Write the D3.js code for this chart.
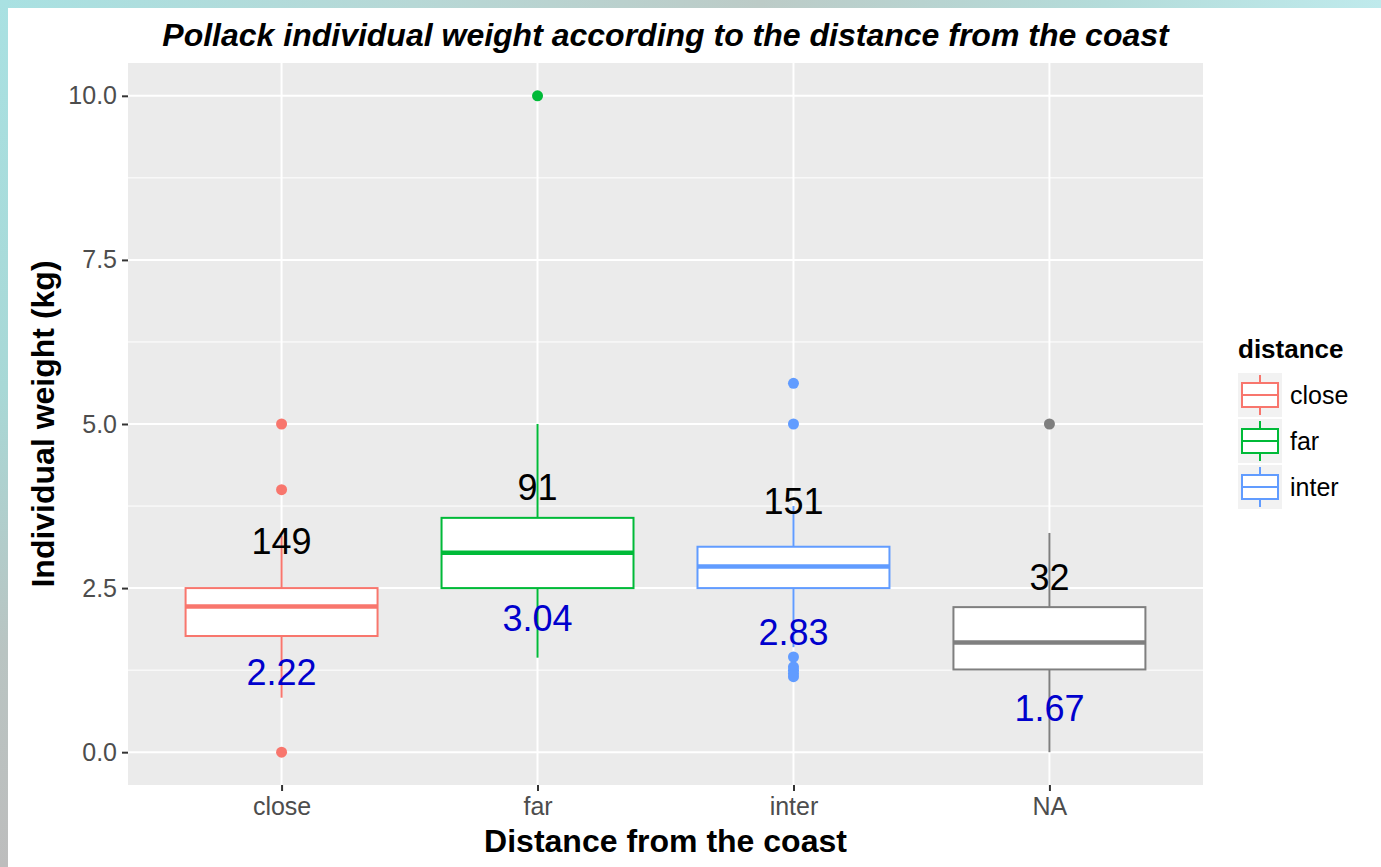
<!DOCTYPE html>
<html>
<head>
<meta charset="utf-8">
<script src="https://cdn.jsdelivr.net/npm/d3@7"></script>
<style>
  html, body { margin: 0; padding: 0; background: #ffffff; }
  svg { display: block; font-family: "Liberation Sans", Arial, sans-serif; }
</style>
</head>
<body>
<svg id="chart" width="1381" height="867"></svg>
<script>
// Box-plot summaries of pollack weight (kg) by distance class
const categories = ["close", "far", "inter", "NA"];
const lowerWhisker = [0.83, 1.44, 1.6, 0.0];
const firstQuartile = [1.77, 2.5, 2.5, 1.26];
const medians = [2.22, 3.04, 2.83, 1.67];
const thirdQuartile = [2.5, 3.57, 3.13, 2.21];
const upperWhisker = [3.3, 5.0, 3.75, 3.34];
const counts = [149, 91, 151, 32];
const outliersClose = [5.0, 4.0, 0.0];
const outliersFar = [10.0];
const outliersInter = [5.62, 5.0, 1.45, 1.3, 1.25, 1.2, 1.15];
const outliersNA = [5.0];
const yTicks = [0, 2.5, 5, 7.5, 10];
const yMinorTicks = [1.25, 3.75, 6.25, 8.75];
const legendLevels = ["close", "far", "inter"];

const colours = ["#F8766D", "#00BA38", "#619CFF", "#7F7F7F"];
const outlierSets = [outliersClose, outliersFar, outliersInter, outliersNA];

const svg = d3.select("#chart");

// Page frame: thin textured strip along the top and left edges
const defs = svg.append("defs");
const gTop = defs.append("linearGradient").attr("id", "topStrip");
[["0%", "#a9e1e2"], ["30%", "#b7d8d6"], ["55%", "#bccbc7"], ["80%", "#b4dcda"], ["100%", "#bfeaec"]]
  .forEach(([o, c]) => gTop.append("stop").attr("offset", o).attr("stop-color", c));
const gLeft = defs.append("linearGradient").attr("id", "leftStrip")
  .attr("x1", 0).attr("y1", 0).attr("x2", 0).attr("y2", 1);
[["0%", "#a9e1e2"], ["45%", "#a8d8d6"], ["75%", "#b9c4c2"], ["100%", "#bdbdbd"]]
  .forEach(([o, c]) => gLeft.append("stop").attr("offset", o).attr("stop-color", c));
svg.append("rect").attr("x", 0).attr("y", 0).attr("width", 1381).attr("height", 8).attr("fill", "url(#topStrip)");
svg.append("rect").attr("x", 0).attr("y", 0).attr("width", 8).attr("height", 867).attr("fill", "url(#leftStrip)");

// Plot panel
const panel = { left: 128, top: 63, right: 1203, bottom: 785 };

// Discrete x axis with 0.6 category-widths of padding at each end
const x = d3.scalePoint()
  .domain(categories)
  .range([panel.left, panel.right])
  .padding(0.6);
const step = x.step();

const y = d3.scaleLinear().domain([-0.5, 10.5]).range([panel.bottom, panel.top]);

svg.append("rect")
  .attr("x", panel.left).attr("y", panel.top)
  .attr("width", panel.right - panel.left).attr("height", panel.bottom - panel.top)
  .attr("fill", "#EBEBEB");

const grid = svg.append("g");
grid.selectAll(".minor").data(yMinorTicks).join("line")
  .attr("x1", panel.left).attr("x2", panel.right)
  .attr("y1", d => y(d)).attr("y2", d => y(d))
  .attr("stroke", "#ffffff").attr("stroke-width", 1);
grid.selectAll(".majorY").data(yTicks).join("line")
  .attr("x1", panel.left).attr("x2", panel.right)
  .attr("y1", d => y(d)).attr("y2", d => y(d))
  .attr("stroke", "#ffffff").attr("stroke-width", 2);
grid.selectAll(".majorX").data(categories).join("line")
  .attr("x1", d => x(d)).attr("x2", d => x(d))
  .attr("y1", panel.top).attr("y2", panel.bottom)
  .attr("stroke", "#ffffff").attr("stroke-width", 2);

// Axes
const yAxis = d3.axisLeft(y).tickValues(yTicks).tickFormat(d3.format(".1f")).tickSize(6).tickPadding(5);
const gy = svg.append("g").attr("transform", `translate(${panel.left},0)`).call(yAxis);
gy.select(".domain").remove();
gy.selectAll(".tick line").attr("stroke", "#333333").attr("stroke-width", 2);
gy.selectAll(".tick text").attr("fill", "#4D4D4D").style("font-size", "25px")
  .style("font-family", "'Liberation Sans', Arial, sans-serif");

const xAxis = d3.axisBottom(x).tickSize(6).tickPadding(6);
const gx = svg.append("g").attr("transform", `translate(0,${panel.bottom})`).call(xAxis);
gx.select(".domain").remove();
gx.selectAll(".tick line").attr("stroke", "#333333").attr("stroke-width", 2);
gx.selectAll(".tick text").attr("fill", "#4D4D4D").style("font-size", "25px")
  .style("font-family", "'Liberation Sans', Arial, sans-serif");

// Boxes
const boxWidth = step * 0.75;
const boxes = svg.append("g").selectAll("g").data(categories).join("g");
boxes.append("line")
  .attr("x1", d => x(d)).attr("x2", d => x(d))
  .attr("y1", (d, i) => y(thirdQuartile[i])).attr("y2", (d, i) => y(upperWhisker[i]))
  .attr("stroke", (d, i) => colours[i]).attr("stroke-width", 2);
boxes.append("line")
  .attr("x1", d => x(d)).attr("x2", d => x(d))
  .attr("y1", (d, i) => y(firstQuartile[i])).attr("y2", (d, i) => y(lowerWhisker[i]))
  .attr("stroke", (d, i) => colours[i]).attr("stroke-width", 2);
boxes.append("rect")
  .attr("x", d => x(d) - boxWidth / 2).attr("width", boxWidth)
  .attr("y", (d, i) => y(thirdQuartile[i]))
  .attr("height", (d, i) => y(firstQuartile[i]) - y(thirdQuartile[i]))
  .attr("fill", "#ffffff").attr("stroke", (d, i) => colours[i]).attr("stroke-width", 2);
boxes.append("line")
  .attr("x1", d => x(d) - boxWidth / 2).attr("x2", d => x(d) + boxWidth / 2)
  .attr("y1", (d, i) => y(medians[i])).attr("y2", (d, i) => y(medians[i]))
  .attr("stroke", (d, i) => colours[i]).attr("stroke-width", 4.5);
boxes.each(function (d, i) {
  d3.select(this).selectAll("circle").data(outlierSets[i]).join("circle")
    .attr("cx", x(d)).attr("cy", v => y(v)).attr("r", 5.5)
    .attr("fill", colours[i]);
});

// Annotations: sample size above, median below
const labels = svg.append("g").style("font-family", "'Liberation Sans', Arial, sans-serif")
  .attr("text-anchor", "middle");
labels.selectAll(".n").data(categories).join("text")
  .attr("x", d => x(d)).attr("y", (d, i) => y(medians[i] + 1))
  .attr("dy", "0.36em").style("font-size", "36px").attr("fill", "#000000")
  .text((d, i) => counts[i]);
labels.selectAll(".m").data(categories).join("text")
  .attr("x", d => x(d)).attr("y", (d, i) => y(medians[i] - 1))
  .attr("dy", "0.36em").style("font-size", "36px").attr("fill", "#0000CD")
  .text((d, i) => medians[i].toFixed(2));

// Titles
svg.append("text").attr("x", (panel.left + panel.right) / 2).attr("y", 46)
  .attr("text-anchor", "middle").style("font-size", "32px").style("font-weight", "bold")
  .style("font-style", "italic").attr("fill", "#000000")
  .text("Pollack individual weight according to the distance from the coast");
svg.append("text").attr("x", (panel.left + panel.right) / 2).attr("y", 852)
  .attr("text-anchor", "middle").style("font-size", "32px").style("font-weight", "bold")
  .attr("fill", "#000000").text("Distance from the coast");
svg.append("text")
  .attr("transform", `translate(54,${(panel.top + panel.bottom) / 2}) rotate(-90)`)
  .attr("text-anchor", "middle").style("font-size", "32px").style("font-weight", "bold")
  .attr("fill", "#000000").text("Individual weight (kg)");

// Legend
const legend = svg.append("g").attr("transform", "translate(1238,0)");
legend.append("text").attr("x", 0).attr("y", 358)
  .style("font-size", "26px").style("font-weight", "bold").attr("fill", "#000000").text("distance");
const keyTops = [373, 419, 465];
const keys = legend.selectAll(".key").data(legendLevels).join("g")
  .attr("transform", (d, i) => `translate(0,${keyTops[i]})`);
keys.append("rect").attr("width", 44).attr("height", 44).attr("fill", "#F2F2F2");
keys.append("line").attr("x1", 22).attr("x2", 22).attr("y1", 2).attr("y2", 42)
  .attr("stroke", (d, i) => colours[i]).attr("stroke-width", 2);
keys.append("rect").attr("x", 4).attr("y", 10).attr("width", 36).attr("height", 24)
  .attr("fill", "#ffffff").attr("stroke", (d, i) => colours[i]).attr("stroke-width", 2);
keys.append("line").attr("x1", 4).attr("x2", 40).attr("y1", 22).attr("y2", 22)
  .attr("stroke", (d, i) => colours[i]).attr("stroke-width", 2);
keys.append("text").attr("x", 52).attr("y", 22).attr("dy", "0.36em")
  .style("font-size", "25px").attr("fill", "#000000").text(d => d);
</script>
</body>
</html>
